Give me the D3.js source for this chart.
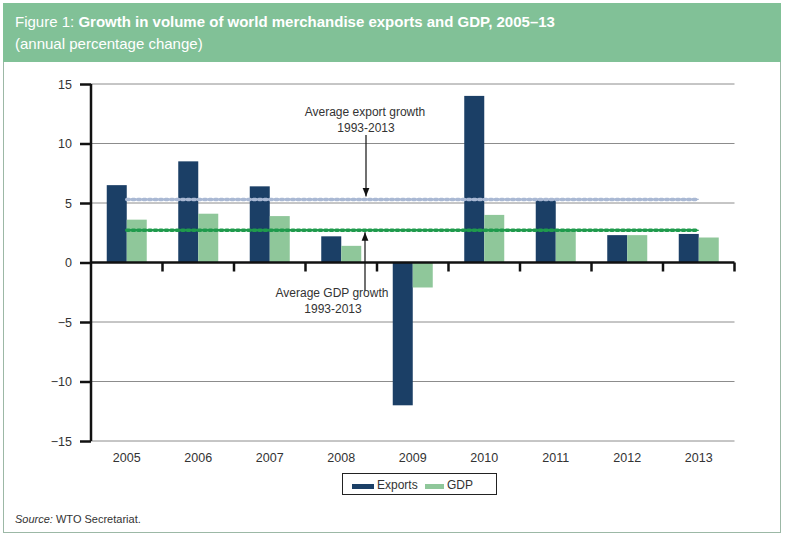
<!DOCTYPE html>
<html>
<head>
<meta charset="utf-8">
<script src="https://cdn.jsdelivr.net/npm/d3@7"></script>
<style>
body{margin:0;background:#fff;}
svg{display:block;font-family:"Liberation Sans",Arial,Helvetica,sans-serif;}
</style>
</head>
<body>
<svg id="chart" width="785" height="538"></svg>
<script>
const years = ["2005","2006","2007","2008","2009","2010","2011","2012","2013"];
const exportsVals = [6.5, 8.5, 6.4, 2.2, -12.0, 14.0, 5.3, 2.3, 2.4];
const gdpVals = [3.6, 4.1, 3.9, 1.4, -2.1, 4.0, 2.8, 2.3, 2.1];
const avgExport = 5.3;
const avgGdp = 2.7;
const yTicks = [-15, -10, -5, 0, 5, 10, 15];

const svg = d3.select("#chart");
const cExp = "#1b3f66", cGdp = "#8fc79a";

// frame and header
svg.append("rect").attr("x",3.5).attr("y",3.5).attr("width",777).attr("height",529)
  .attr("fill","#fff").attr("stroke","#9cb8a6").attr("stroke-width",1);
svg.append("rect").attr("x",3).attr("y",3).attr("width",778).attr("height",59).attr("fill","#81c197");
const t = svg.append("text").attr("x",15).attr("y",27).attr("fill","#fff").attr("font-size",15);
t.append("tspan").text("Figure 1: ");
t.append("tspan").attr("font-weight","bold").text("Growth in volume of world merchandise exports and GDP, 2005\u201313");
svg.append("text").attr("x",15).attr("y",49).attr("fill","#fff").attr("font-size",15).text("(annual percentage change)");

const x0 = 91, x1 = 734.5;
const x = d3.scaleBand().domain(years).range([x0, x1]);
const y = d3.scaleLinear().domain([-15, 15]).range([441, 84]);
const bw = 20;

// gridlines
svg.append("g").selectAll("line").data(yTicks.filter(d => d !== 0)).join("line")
  .attr("x1", x0).attr("x2", x1).attr("y1", d => y(d)).attr("y2", d => y(d))
  .attr("stroke", "#8c8c8c").attr("stroke-width", 1);

// average lines
function avgLine(v, color, lineColor){
  const g = svg.append("g");
  const xa = x(years[0]) + x.bandwidth()/2, xb = x(years[years.length-1]) + x.bandwidth()/2;
  g.append("line").attr("x1",xa).attr("x2",xb).attr("y1",y(v)).attr("y2",y(v))
    .attr("stroke",lineColor).attr("stroke-width",1.2);
  g.append("line").attr("x1",xa).attr("x2",xb).attr("y1",y(v)).attr("y2",y(v))
    .attr("stroke",color).attr("stroke-width",3.5).attr("stroke-linecap","round")
    .attr("stroke-dasharray","2.5 3");
}

// bars
svg.append("g").selectAll("rect").data(years).join("rect")
  .attr("x", d => x(d) + x.bandwidth()/2 - bw)
  .attr("width", bw)
  .attr("y", (d,i) => y(Math.max(0, exportsVals[i])))
  .attr("height", (d,i) => Math.abs(y(exportsVals[i]) - y(0)))
  .attr("fill", cExp);

avgLine(avgExport, "#a9b8d3", "#a9b8d3");

svg.append("g").selectAll("rect").data(years).join("rect")
  .attr("x", d => x(d) + x.bandwidth()/2)
  .attr("width", bw)
  .attr("y", (d,i) => y(Math.max(0, gdpVals[i])))
  .attr("height", (d,i) => Math.abs(y(gdpVals[i]) - y(0)))
  .attr("fill", cGdp);

avgLine(avgGdp, "#1f9a4c", "#1f9a4c");

// redraw export bars above lines (export bar in 2005 covers lines start)
// y axis
const yAxis = svg.append("g").attr("transform", `translate(${x0},0)`)
  .call(d3.axisLeft(y).tickValues(yTicks).tickSize(11).tickPadding(8).tickFormat(d => d < 0 ? "\u2212" + Math.abs(d) : d));
yAxis.select(".domain").attr("stroke","#111").attr("stroke-width",2.5).attr("d", `M0,${y(15)}V${y(-15)}`);
yAxis.selectAll(".tick line").attr("stroke","#111").attr("stroke-width",2.5);
yAxis.selectAll(".tick text").attr("font-size",12.5).attr("fill","#333").attr("font-family","Liberation Sans,Arial,sans-serif");

// x axis at zero
const xg = svg.append("g").attr("transform", `translate(0,${y(0)})`);
xg.append("line").attr("x1",x0).attr("x2",x1).attr("stroke","#111").attr("stroke-width",2.5);
xg.selectAll("line.tk").data(years.slice(1).map(d => x(d)).concat([x1])).join("line").attr("class","tk")
  .attr("x1", d => d).attr("x2", d => d).attr("y1", 0).attr("y2", 9)
  .attr("stroke","#111").attr("stroke-width",2.5);

// x labels
svg.append("g").selectAll("text").data(years).join("text")
  .attr("x", d => x(d) + x.bandwidth()/2).attr("y", 462)
  .attr("text-anchor","middle").attr("font-size",12.5).attr("fill","#333").text(d => d);

// annotations
svg.append("defs").append("marker").attr("id","arr").attr("viewBox","0 0 10 10")
  .attr("refX",10).attr("refY",5).attr("markerWidth",7).attr("markerHeight",8).attr("orient","auto")
  .append("path").attr("d","M0,1L10,5L0,9Z").attr("fill","#111");

svg.append("text").attr("x",365).attr("y",116).attr("text-anchor","middle").attr("font-size",12).attr("fill","#333").text("Average export growth");
svg.append("text").attr("x",366).attr("y",132).attr("text-anchor","middle").attr("font-size",12).attr("fill","#333").text("1993-2013");
svg.append("line").attr("x1",366).attr("x2",366).attr("y1",135).attr("y2",y(avgExport)-3)
  .attr("stroke","#111").attr("stroke-width",1.2).attr("marker-end","url(#arr)");

svg.append("line").attr("x1",365).attr("x2",365).attr("y1",291).attr("y2",y(avgGdp)+2)
  .attr("stroke","#111").attr("stroke-width",1.2).attr("marker-end","url(#arr)");
svg.append("text").attr("x",332).attr("y",297).attr("text-anchor","middle").attr("font-size",12).attr("fill","#333").text("Average GDP growth");
svg.append("text").attr("x",333).attr("y",313).attr("text-anchor","middle").attr("font-size",12).attr("fill","#333").text("1993-2013");

// legend
const lg = svg.append("g");
lg.append("rect").attr("x",342.5).attr("y",473.5).attr("width",154).attr("height",21)
  .attr("fill","#fff").attr("stroke","#222").attr("stroke-width",1);
const legendItems = [{name:"Exports", c:cExp, x:352, w:22}, {name:"GDP", c:cGdp, x:425, w:19}];
legendItems.forEach(it => {
  lg.append("rect").attr("x",it.x).attr("y",484).attr("width",it.w).attr("height",5).attr("fill",it.c);
  lg.append("text").attr("x",it.x+it.w+3).attr("y",489).attr("font-size",12).attr("fill","#333").text(it.name);
});

// source
const s = svg.append("text").attr("x",15).attr("y",523).attr("font-size",11).attr("fill","#333");
s.append("tspan").attr("font-style","italic").text("Source:");
s.append("tspan").text(" WTO Secretariat.");
</script>
</body>
</html>
